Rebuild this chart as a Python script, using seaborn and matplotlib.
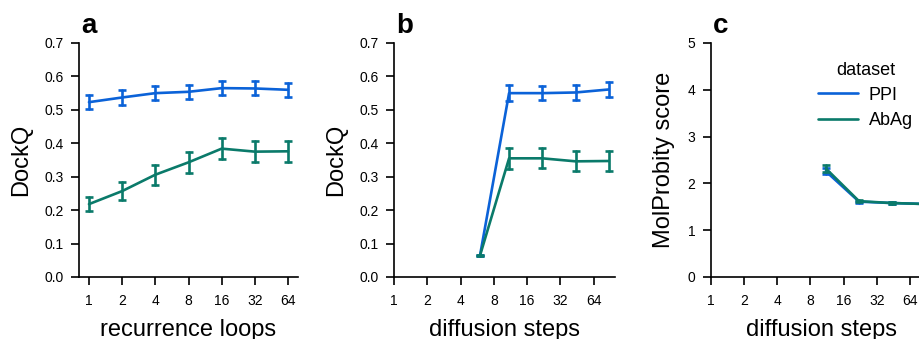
import matplotlib
matplotlib.use("Agg")
import matplotlib.pyplot as plt
import numpy as np
import pandas as pd
import seaborn as sns
from matplotlib.ticker import FixedLocator, FixedFormatter, NullLocator

# ---------------- data ----------------
datasets = ["PPI", "AbAg"]

loops = [1, 2, 4, 8, 16, 32, 64]
ppi_loops_mean = [0.523, 0.537, 0.550, 0.554, 0.565, 0.564, 0.560]
ppi_loops_err = [0.021, 0.022, 0.021, 0.021, 0.021, 0.021, 0.021]
abag_loops_mean = [0.218, 0.257, 0.306, 0.343, 0.384, 0.375, 0.376]
abag_loops_err = [0.022, 0.027, 0.030, 0.031, 0.032, 0.031, 0.032]

steps = [6, 11, 22, 44, 88]
ppi_steps_mean = [0.064, 0.550, 0.550, 0.552, 0.561]
ppi_steps_err = [0.002, 0.024, 0.022, 0.022, 0.022]
abag_steps_mean = [0.064, 0.355, 0.355, 0.346, 0.347]
abag_steps_err = [0.002, 0.031, 0.030, 0.030, 0.031]

mp_steps = [11, 22, 44, 88]
ppi_mp_mean = [2.26, 1.61, 1.58, 1.56]
ppi_mp_err = [0.06, 0.02, 0.02, 0.02]
abag_mp_mean = [2.32, 1.62, 1.58, 1.56]
abag_mp_err = [0.07, 0.02, 0.02, 0.02]

xtick_vals = [1, 2, 4, 8, 16, 32, 64]
xtick_labels = ["1", "2", "4", "8", "16", "32", "64"]
dock_ticks = [0.0, 0.1, 0.2, 0.3, 0.4, 0.5, 0.6, 0.7]
dock_labels = ["0.0", "0.1", "0.2", "0.3", "0.4", "0.5", "0.6", "0.7"]
mp_ticks = [0, 1, 2, 3, 4, 5]
mp_labels = ["0", "1", "2", "3", "4", "5"]

palette = {"PPI": "#0b62d8", "AbAg": "#0a7a6a"}


def long_frame(x, series):
    """series: dict name -> (mean, err). Two rows per point (lower / upper)."""
    rows = []
    for name, (m, e) in series.items():
        for xi, mi, ei in zip(x, m, e):
            rows.append({"x": xi, "y": mi - ei, "dataset": name})
            rows.append({"x": xi, "y": mi + ei, "dataset": name})
    return pd.DataFrame(rows)


df_a = long_frame(loops, {"PPI": (ppi_loops_mean, ppi_loops_err),
                          "AbAg": (abag_loops_mean, abag_loops_err)})
df_b = long_frame(steps, {"PPI": (ppi_steps_mean, ppi_steps_err),
                          "AbAg": (abag_steps_mean, abag_steps_err)})
df_c = long_frame(mp_steps, {"PPI": (ppi_mp_mean, ppi_mp_err),
                             "AbAg": (abag_mp_mean, abag_mp_err)})

# ---------------- style ----------------
sns.set_style("ticks")
plt.rcParams["font.family"] = ["Liberation Sans", "DejaVu Sans"]
plt.rcParams["text.color"] = "black"
plt.rcParams["axes.labelcolor"] = "black"
plt.rcParams["axes.linewidth"] = 1.2
plt.rcParams["xtick.major.width"] = 1.2
plt.rcParams["ytick.major.width"] = 1.2
plt.rcParams["xtick.major.size"] = 6
plt.rcParams["ytick.major.size"] = 6
plt.rcParams["xtick.major.pad"] = 6
plt.rcParams["ytick.major.pad"] = 5
plt.rcParams["xtick.labelsize"] = 10
plt.rcParams["ytick.labelsize"] = 10
plt.rcParams["axes.edgecolor"] = "black"
plt.rcParams["xtick.color"] = "black"
plt.rcParams["ytick.color"] = "black"

W, H = 920, 339
fig = plt.figure(figsize=(W / 100, H / 100), dpi=100)

bottom = (H - 277) / H
height = 234 / H
ax_a = fig.add_axes([79 / W, bottom, 219 / W, height])
ax_b = fig.add_axes([394 / W, bottom, 221 / W, height])
ax_c = fig.add_axes([710.7 / W, bottom, 221 / W, height])

err_fn = lambda v: (v.min(), v.max())
err_kws = dict(capsize=2.8, capthick=1.9, elinewidth=1.9)

for ax, df in [(ax_a, df_a), (ax_b, df_b), (ax_c, df_c)]:
    sns.lineplot(data=df, x="x", y="y", hue="dataset", hue_order=datasets,
                 palette=palette, estimator="mean", errorbar=err_fn,
                 err_style="bars", err_kws=err_kws, linewidth=1.9,
                 ax=ax, legend=(ax is ax_c))
    ax.set_xscale("log", base=2)
    ax.xaxis.set_major_locator(FixedLocator(xtick_vals))
    ax.xaxis.set_major_formatter(FixedFormatter(xtick_labels))
    ax.xaxis.set_minor_locator(NullLocator())
    sns.despine(ax=ax)

ax_a.set_xlim(2 ** -0.3, 2 ** 6.3)
ax_b.set_xlim(1, 100)
ax_c.set_xlim(1, 100)

for ax in (ax_a, ax_b):
    ax.set_ylim(0, 0.7)
    ax.yaxis.set_major_locator(FixedLocator(dock_ticks))
    ax.yaxis.set_major_formatter(FixedFormatter(dock_labels))
    ax.set_ylabel("DockQ", fontsize=17, labelpad=9)
ax_c.set_ylim(0, 5)
ax_c.yaxis.set_major_locator(FixedLocator(mp_ticks))
ax_c.yaxis.set_major_formatter(FixedFormatter(mp_labels))
ax_c.set_ylabel("MolProbity score", fontsize=17, labelpad=9)

ax_a.set_xlabel("recurrence loops", fontsize=17, labelpad=8)
ax_b.set_xlabel("diffusion steps", fontsize=17, labelpad=8)
ax_c.set_xlabel("diffusion steps", fontsize=17, labelpad=8)

for ax, lab in [(ax_a, "a"), (ax_b, "b"), (ax_c, "c")]:
    ax.text(0.008, 1.043, lab, transform=ax.transAxes, fontsize=20,
            fontweight="bold", va="baseline", ha="left")

leg = ax_c.legend(title="dataset", frameon=False, fontsize=13,
                  title_fontsize=13, loc="upper left",
                  bbox_to_anchor=(0.413, 0.99), handlelength=2.2,
                  handletextpad=0.6, labelspacing=0.45)

fig.savefig("out.png", dpi=100)
